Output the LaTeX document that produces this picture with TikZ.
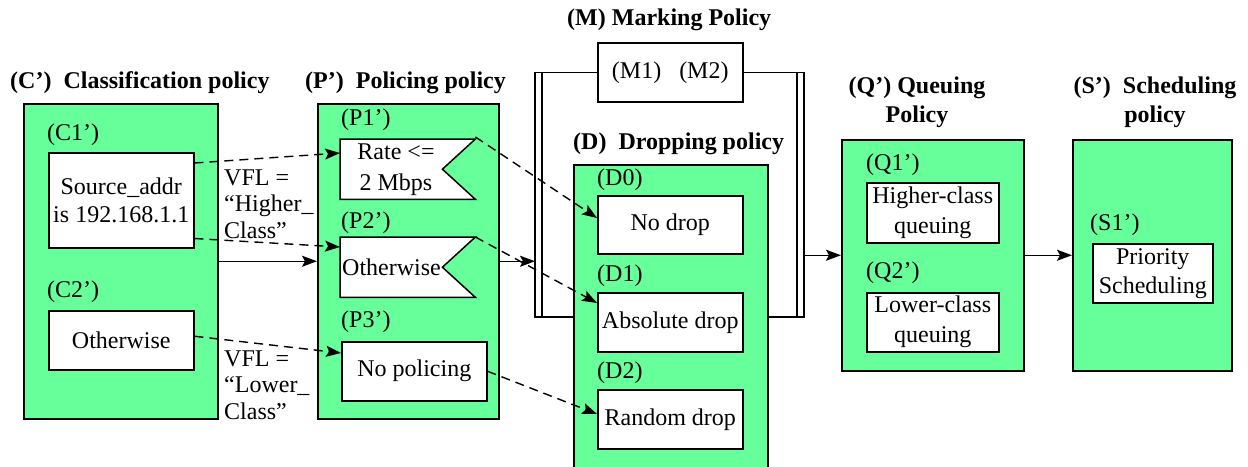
\documentclass[tikz,border=0pt]{standalone}
\usepackage{fontspec}
\setmainfont{Liberation Serif}
\usetikzlibrary{positioning,calc,arrows.meta}
\definecolor{polgreen}{RGB}{102,255,153}

\begin{document}
\begin{tikzpicture}[x=1pt,y=-1pt]
        \tikzstyle{every node}=[font=\fontsize{24}{28}\selectfont]
        \tikzstyle{policybox}=[draw, fill=polgreen, line width=1.5pt, inner sep=0pt, anchor=north west]
        \tikzstyle{rulebox}=[draw, fill=white, line width=1.5pt, inner sep=0pt, anchor=north west, align=center]
        \tikzstyle{heading}=[font=\fontsize{24}{29}\selectfont\bfseries, inner sep=0pt]
        \tikzstyle{tagtext}=[anchor=west, inner sep=0pt]
        \tikzstyle{flowarrow}=[line width=1.5pt, -{Stealth[length=15pt,width=11pt,inset=3pt]}]
        \tikzstyle{dasharrow}=[flowarrow, line width=1.4pt, dash pattern=on 9pt off 6pt]

        \useasboundingbox (0,0) rectangle (1248,466);

        \node[policybox, minimum width=194pt, minimum height=315pt] (C) at (23,103) {};
        \node[policybox, minimum width=181pt, minimum height=315pt] (P) at (317,103) {};
        \node[policybox, minimum width=194pt, minimum height=330pt] (D) at (573,164) {};
        \node[policybox, minimum width=182pt, minimum height=231pt] (Q) at (841,139) {};
        \node[policybox, minimum width=159pt, minimum height=231pt] (S) at (1072,139) {};

        \node[heading, anchor=west] (Ct) at (10,83) {(C')\ \ Classification policy};
        \node[heading, anchor=west] (Pt) at (305,83) {(P')\ \ Policing policy};
        \node[heading, anchor=west] (Mt) at (567,20) {(M) Marking Policy};
        \node[heading, anchor=west] (Dt) at (573,144) {(D)\ \ Dropping policy};
        \node[heading, align=center] (Qt) at (917,102) {(Q') Queuing\\Policy};
        \node[heading, align=center] (St) at (1155,102) {(S')\ \ Scheduling\\policy};

        \node[tagtext] (c1tag) at (47,135) {(C1')};
        \node[tagtext] (c2tag) at (47,292) {(C2')};
        \node[rulebox, minimum width=145pt, minimum height=95pt] (c1) at (48,152) {Source\_addr\\is 192.168.1.1};
        \node[rulebox, minimum width=145pt, minimum height=59pt] (c2) at (48,310) {Otherwise};
        \node[tagtext, align=left, font=\fontsize{24}{26.5}\selectfont] (vflhi) at (224,204) {VFL =\\``Higher\_\\Class''};
        \node[tagtext, align=left, font=\fontsize{24}{26.5}\selectfont] (vfllo) at (224,385) {VFL =\\``Lower\_\\Class''};

        \node[tagtext] (p1tag) at (341,120) {(P1')};
        \node[tagtext] (p2tag) at (341,223) {(P2')};
        \node[tagtext] (p3tag) at (341,322) {(P3')};
        \node[inner sep=0pt, anchor=north west, minimum width=135pt, minimum height=60pt] (p1) at (340,139) {};
        \node[inner sep=0pt, anchor=north west, minimum width=135pt, minimum height=60pt] (p2) at (340,237) {};
        \draw[line width=1.5pt, fill=white] (p1.north west) -- (p1.north east) -- ($(p1.east)+(-33,0)$) -- (p1.south east) -- (p1.south west) -- cycle;
        \draw[line width=1.5pt, fill=white] (p2.north west) -- (p2.north east) -- ($(p2.east)+(-33,0)$) -- (p2.south east) -- (p2.south west) -- cycle;
        \node[align=center, font=\fontsize{24}{31}\selectfont] (p1txt) at (396,170) {Rate <=\\2 Mbps};
        \node[anchor=west, inner sep=2pt] (p2txt) at (p2.west) {Otherwise};
        \node[rulebox, minimum width=145pt, minimum height=59pt] (p3) at (341,341) {No policing};

        \node[rulebox, minimum width=145pt, minimum height=59pt] (M) at (597,42) {(M1)\ \ \ (M2)};
        \coordinate (brL) at (535,73);
        \coordinate (brLb) at (535,317);
        \coordinate (brR) at (804,73);
        \coordinate (brRb) at (804,317);
        \draw[line width=1.5pt] (M.west) -- (M.west -| brL) -- (brLb) -- (brLb -| D.west);
        \draw[line width=1.5pt] ($(M.west -| brL)+(7,0)$) -- ($(brLb)+(7,0)$);
        \draw[line width=1.5pt] (M.east) -- (M.east -| brR) -- (brRb) -- (brRb -| D.east);
        \draw[line width=1.5pt] ($(M.east -| brR)+(-7,0)$) -- ($(brRb)+(-7,0)$);

        \node[tagtext] (d0tag) at (597,180) {(D0)};
        \node[tagtext] (d1tag) at (597,276) {(D1)};
        \node[tagtext] (d2tag) at (597,373) {(D2)};
        \node[rulebox, minimum width=145pt, minimum height=58pt] (d0) at (597,195) {No drop};
        \node[rulebox, minimum width=145pt, minimum height=59pt] (d1) at (597,292) {Absolute drop};
        \node[rulebox, minimum width=145pt, minimum height=59pt] (d2) at (597,389) {Random drop};

        \node[tagtext] (q1tag) at (866,165) {(Q1')};
        \node[tagtext] (q2tag) at (866,273) {(Q2')};
        \node[rulebox, minimum width=132pt, minimum height=60pt, font=\fontsize{24}{30}\selectfont] (q1) at (866,182) {Higher-class\\queuing};
        \node[rulebox, minimum width=132pt, minimum height=59pt, font=\fontsize{24}{30}\selectfont] (q2) at (866,292) {Lower-class\\queuing};

        \node[tagtext] (s1tag) at (1090,225) {(S1')};
        \node[rulebox, minimum width=120pt, minimum height=59pt, font=\fontsize{24}{29}\selectfont] (s1) at (1092,243) {Priority\\Scheduling};

        \draw[flowarrow] (C.east) -- (P.west);
        \draw[flowarrow] (P.east) -- (P.east -| brL);
        \draw[flowarrow] (brR |- Q.west) -- (Q.west);
        \draw[flowarrow] (Q.east) -- (S.west);

        \draw[dasharrow] ($(c1.north east)+(0,11)$) -- ($(p1.north west)+(0,14)$);
        \draw[dasharrow] ($(c1.south east)+(0,-10)$) -- ($(p2.north west)+(0,10)$);
        \draw[dasharrow] ($(c2.east)+(0,-4)$) -- ($(p3.north west)+(0,12)$);
        \draw[dasharrow] ($(p1.north east)+(0,-2)$) -- ($(d0.north west)+(0,23)$);
        \draw[dasharrow] (p2.north east) -- ($(d1.north west)+(0,11)$);
        \draw[dasharrow] (p3.east) -- ($(d2.north west)+(0,25)$);
\end{tikzpicture}
\end{document}
